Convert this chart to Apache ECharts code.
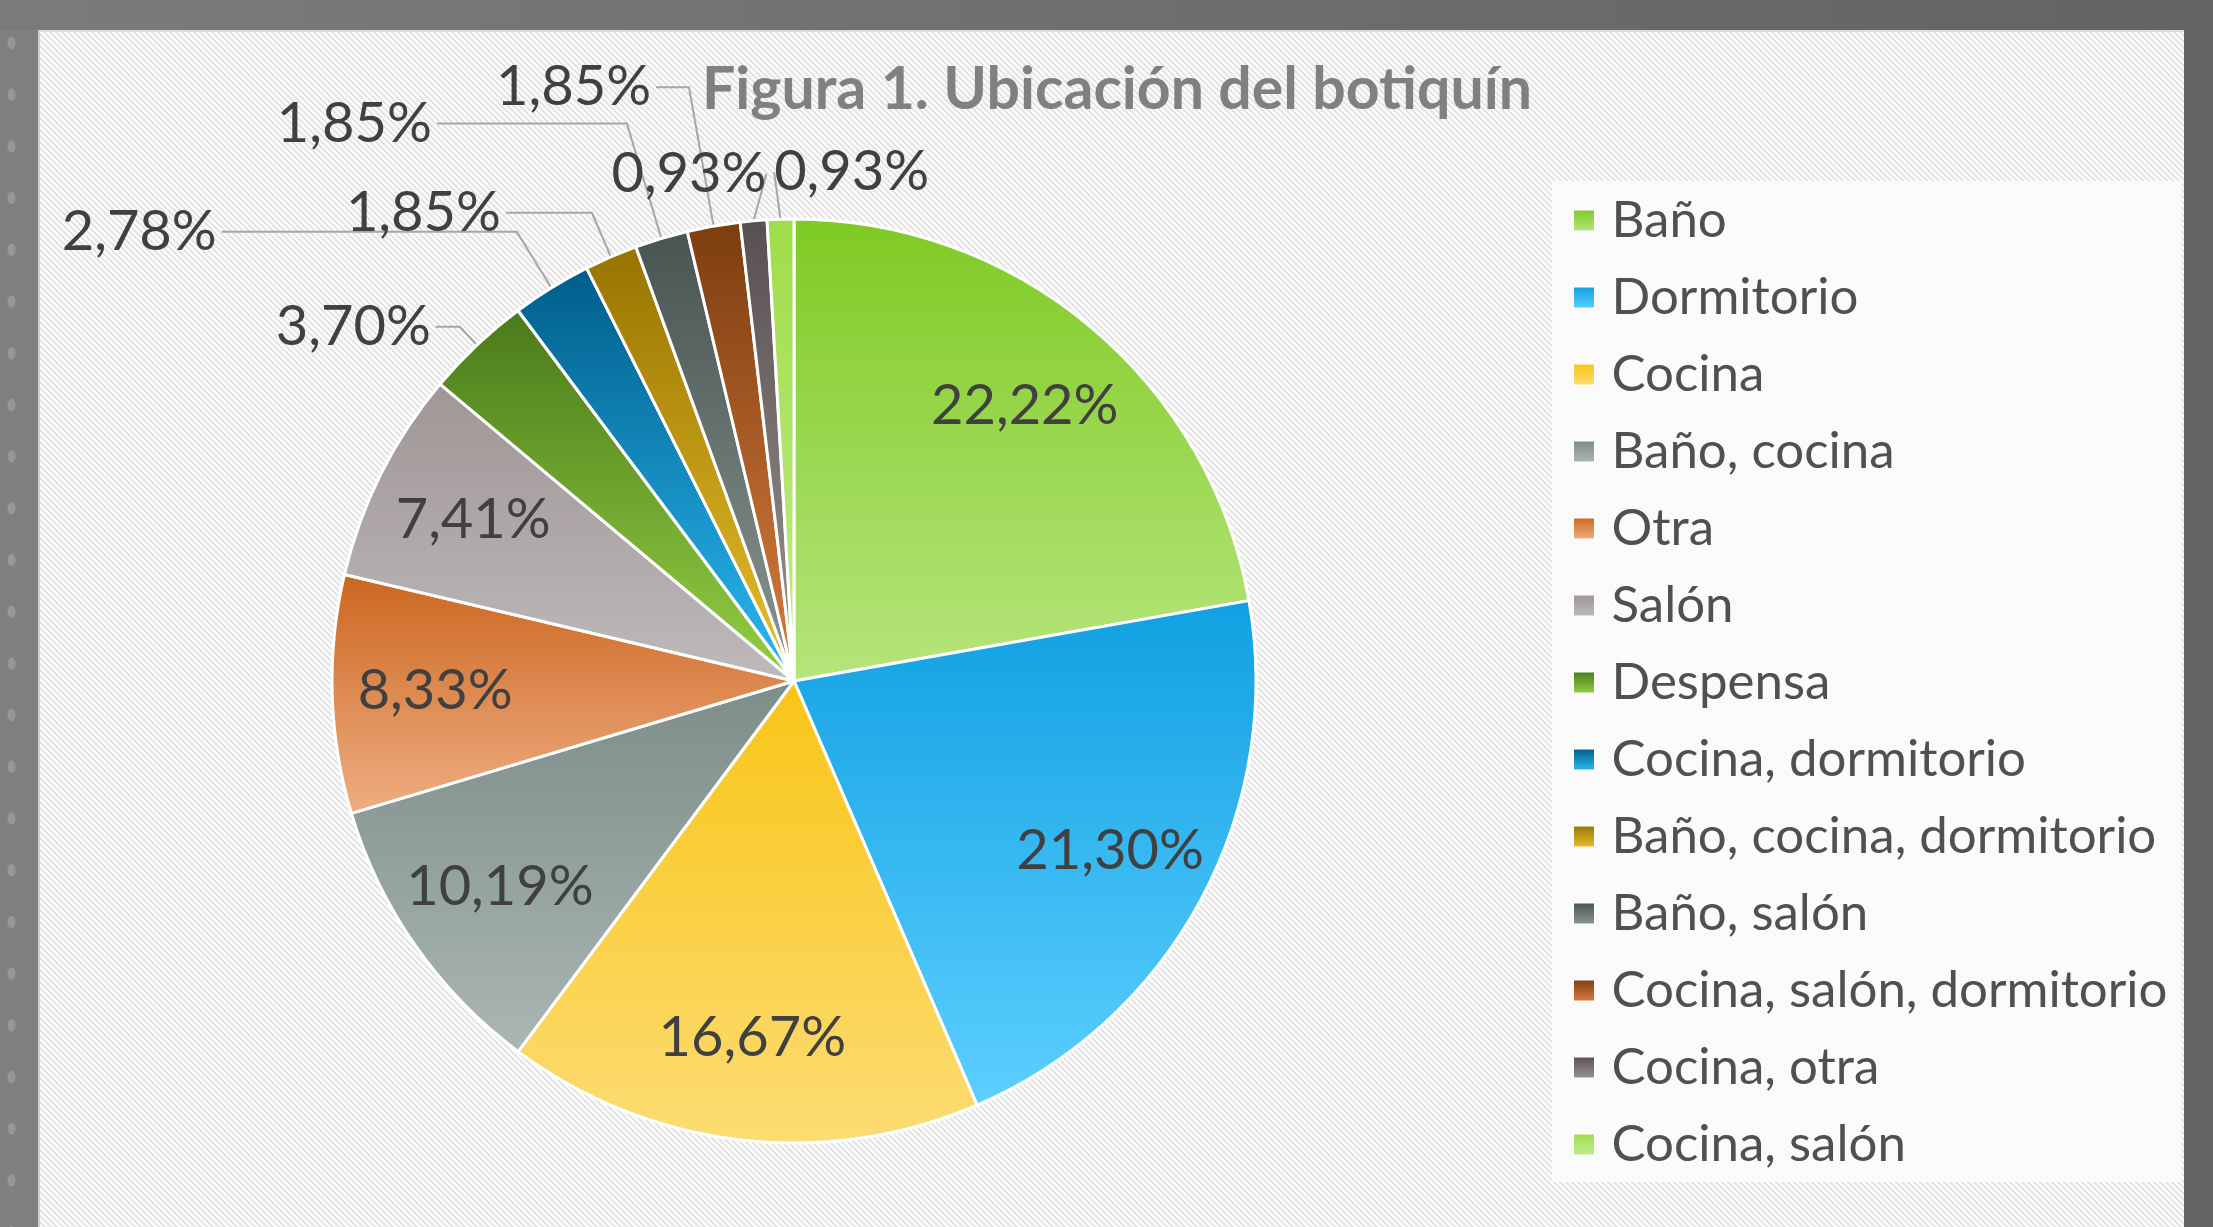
<!DOCTYPE html>
<html><head><meta charset="utf-8">
<script src="https://cdn.jsdelivr.net/npm/echarts@6/dist/echarts.min.js"></script>
<style>html,body{margin:0;padding:0;width:2213px;height:1227px;overflow:hidden;background:#7a7a7a}#c{width:2213px;height:1227px}</style>
</head><body><div id="c"></div><script>
// ---- data ----
const categories = ['Baño','Dormitorio','Cocina','Baño, cocina','Otra','Salón','Despensa','Cocina, dormitorio','Baño, cocina, dormitorio','Baño, salón','Cocina, salón, dormitorio','Cocina, otra','Cocina, salón'];
const percentages = [22.22,21.30,16.67,10.19,8.33,7.41,3.70,2.78,1.85,1.85,1.85,0.93,0.93];
const titleText = 'Figura 1. Ubicación del botiquín';
// ---- styles ----
const colorsTop = ['#7fca24','#10a0e2','#f8c516','#7d8d89','#cc6620','#9f9696','#4a7a1a','#005d89','#977400','#475452','#7c3d10','#585050','#9fdd4a'];
const colorsBottom = ['#b6e57c','#5ccfff','#fcdc74','#aab6b3','#efae82','#bfb9b9','#94d044','#2ab9f4','#e8bf2c','#8a9693','#d97d3e','#9c9393','#c2eb8b'];
const leaderLength  = [0,0,0,0,0,0, 25, 66, 48, 120, 141, 47, 47];
const leaderLength2 = [0,0,0,0,0,0, 24, 295, 86, 190, 33, 0, 0];
const FONT = 'Lato, "Open Sans", sans-serif';
const fmt = v => v.toFixed(2).replace('.', ',') + '%';
const grad = i => ({type:'linear', x:0, y:0, x2:0, y2:1, colorStops:[{offset:0,color:colorsTop[i]},{offset:1,color:colorsBottom[i]}]});
const isInside = i => percentages[i] >= 5;

// stripe pattern
const pc = document.createElement('canvas'); pc.width = 6; pc.height = 6;
const g = pc.getContext('2d');
g.fillStyle = '#fbfbfb'; g.fillRect(0,0,6,6);
g.strokeStyle = '#e0e0e0'; g.lineWidth = 1.6;
g.beginPath(); g.moveTo(-1,-1); g.lineTo(7,7); g.moveTo(-1,5); g.lineTo(1,7); g.moveTo(5,-1); g.lineTo(7,1); g.stroke();

const W = 2213, H = 1227;
const deco = [
  {type:'rect', z:0, shape:{x:0,y:0,width:W,height:30}, style:{fill:{type:'linear',x:0,y:0,x2:1,y2:0,colorStops:[{offset:0,color:'#7b7b7b'},{offset:1,color:'#636363'}]}}},
  {type:'rect', z:0, shape:{x:0,y:30,width:38,height:H-30}, style:{fill:'#808080'}},
  {type:'rect', z:0, shape:{x:2184,y:30,width:W-2184,height:H-30}, style:{fill:'#646464'}},
  {type:'rect', z:0, shape:{x:38,y:30,width:2146,height:H-30}, style:{fill:{image:pc, repeat:'repeat'}}},
  {type:'rect', z:0, shape:{x:38,y:30,width:2146,height:2}, style:{fill:'#dcdcdc'}},
  {type:'rect', z:0, shape:{x:38,y:30,width:2,height:H-30}, style:{fill:'#d0d0d0'}}
];
for (let k = 0; k < 24; k++) {
  deco.push({type:'ellipse', z:0, shape:{cx:11.5, cy:43 + 51.7*k, rx:4, ry:6}, style:{fill:'#979797'}});
}

const chart = echarts.init(document.getElementById('c'), null, {renderer:'canvas'});
chart.setOption({
  animation: false,
  graphic: {elements: deco},
  title: {text: titleText, left: 697, top: 55, textStyle:{fontFamily:FONT, fontSize:59, fontWeight:'bold', color:'#808080'}},
  legend: {
    orient:'vertical', left:1552, top:181, padding:[14,14,12,21],
    backgroundColor:'rgba(252,252,252,0.85)',
    itemWidth:21, itemHeight:21, itemGap:26, icon:'rect',
    itemStyle:{borderWidth:1, borderColor:'#ffffff'},
    textStyle:{fontFamily:FONT, fontSize:51, lineHeight:51, color:'#505050', padding:[0,0,0,12]},
    data: categories
  },
  series: [
    {
      type:'pie', center:[794,681], radius:462, startAngle:90, clockwise:true,
      avoidLabelOverlap:false,
      itemStyle:{borderColor:'#ffffff', borderWidth:3},
      emphasis:{disabled:true},
      label:{fontFamily:FONT, fontSize:56, color:'#404040', textBorderWidth:0, formatter:p=>fmt(p.value)},
      labelLine:{lineStyle:{color:'#a6a6a6', width:2}},
      labelLayout: function (p) {
        const n = categories.length;
        if (p.dataIndex === n - 1) {
          return {x: p.labelRect.x + p.labelRect.width, y: p.labelRect.y + p.labelRect.height / 2, align:'left', verticalAlign:'middle'};
        }
        if (p.dataIndex === n - 2) {
          return {x: p.labelRect.x + p.labelRect.width + 22, y: p.labelRect.y + p.labelRect.height / 2, align:'right', verticalAlign:'middle'};
        }
      },
      data: categories.map((n,i)=>({
        name:n, value:percentages[i], itemStyle:{color:grad(i)},
        label:{show: !isInside(i)},
        labelLine:{show: !isInside(i), length: leaderLength[i], length2: leaderLength2[i]}
      }))
    },
    {
      type:'pie', center:[794,681], radius:[250,462], startAngle:90, clockwise:true, silent:true,
      itemStyle:{color:'rgba(0,0,0,0)', borderWidth:0},
      emphasis:{disabled:true},
      label:{position:'inside', fontFamily:FONT, fontSize:56, color:'#404040', textBorderWidth:0, formatter:p=>fmt(p.value)},
      labelLine:{show:false},
      data: categories.map((n,i)=>({name:n, value:percentages[i], label:{show: isInside(i)}}))
    }
  ]
});
</script></body></html>
